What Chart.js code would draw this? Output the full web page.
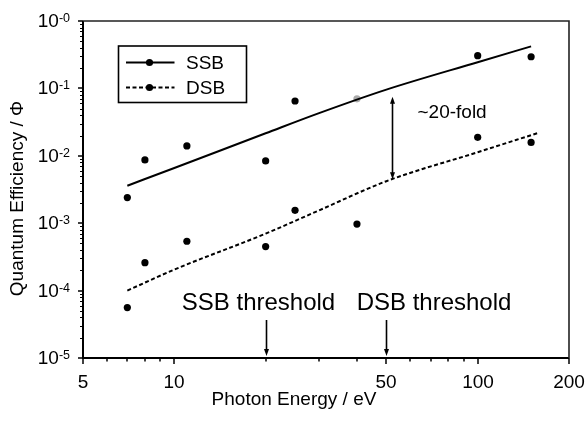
<!DOCTYPE html>
<html><head><meta charset="utf-8">
<script src="https://cdn.jsdelivr.net/npm/chart.js@4.4.1/dist/chart.umd.min.js"></script>
<style>html,body{margin:0;padding:0;background:#fff;}#wrap{width:588px;height:423px;position:relative;}</style>
</head><body><div id="wrap"><canvas id="c" width="588" height="423"></canvas></div>
<script>
// ---- data ----
const energies   = [7, 8, 11, 20, 25, 40, 100, 150];
const ssbValues  = [2.4e-3, 8.7e-3, 1.4e-2, 8.4e-3, 6.5e-2, 7.0e-2, 0.306, 0.295];
const dsbValues  = [5.6e-5, 2.6e-4, 5.4e-4, 4.5e-4, 1.55e-3, 9.7e-4, 0.0188, 0.0158];
const ssbFitEnergies = [7, 10, 20, 30, 50, 100, 150];
const ssbFitValues   = [3.6e-3, 6.6e-3, 0.0216, 0.043, 0.096, 0.245, 0.42];
const dsbFitEnergies = [7, 10, 20, 30, 50, 100, 157];
const dsbFitValues   = [1.0e-4, 2.05e-4, 7.0e-4, 1.55e-3, 4.2e-3, 0.0113, 0.0216];
const xTickValues = [5,6,7,8,9,10,20,30,40,50,60,70,80,90,100,200];
const xTickLabels = {5:'5',10:'10',50:'50',100:'100',200:'200'};
const yTickValues = [1, 0.1, 0.01, 0.001, 1e-4, 1e-5];
const yTickExponents = ['-0','-1','-2','-3','-4','-5'];
const seriesNames = ['SSB','DSB'];
const thresholdLabels = ['SSB threshold','DSB threshold'];
const thresholdEnergies = [20, 50];
const foldEnergy = 52, foldTop = 0.0753, foldBottom = 4.5e-3, foldLabel = '~20-fold';
const xTitle = 'Photon Energy / eV';
const yTitle = 'Quantum Efficiency / \u03A6';

const FONT = '"Liberation Sans", Arial, Helvetica, sans-serif';
const pts = (xs, ys) => xs.map((x,i)=>({x, y: ys[i]}));

function arrowHead(ctx, x, y, dir, w, l){
  ctx.beginPath();
  ctx.moveTo(x, y);
  ctx.lineTo(x - w/2, y - dir*l);
  ctx.lineTo(x + w/2, y - dir*l);
  ctx.closePath();
  ctx.fill();
}

const decor = {
  id: 'decor',
  afterDraw(chart){
    const {ctx, scales:{x, y}} = chart;
    const a = { left: x.getPixelForValue(x.min), right: x.getPixelForValue(x.max),
                top: y.getPixelForValue(y.max), bottom: y.getPixelForValue(y.min) };
    ctx.save();
    // frame
    ctx.strokeStyle = '#000'; ctx.lineWidth = 2;
    ctx.beginPath(); ctx.moveTo(a.left, a.top); ctx.lineTo(a.left, a.bottom); ctx.lineTo(a.right, a.bottom); ctx.stroke();
    ctx.strokeStyle = '#222'; ctx.lineWidth = 1.6;
    ctx.beginPath(); ctx.moveTo(a.left, a.top); ctx.lineTo(a.right, a.top); ctx.lineTo(a.right, a.bottom); ctx.stroke();
    // x ticks + labels
    ctx.strokeStyle = '#000'; ctx.fillStyle = '#000'; ctx.lineWidth = 1.5;
    xTickValues.forEach(v => {
      const px = Math.round(x.getPixelForValue(v));
      const len = xTickLabels[v] ? 6 : 3.5;
      ctx.beginPath(); ctx.moveTo(px, a.bottom); ctx.lineTo(px, a.bottom + len); ctx.stroke();
      if (xTickLabels[v]) {
        ctx.font = '19px ' + FONT; ctx.textAlign = 'center'; ctx.textBaseline = 'alphabetic';
        ctx.fillText(xTickLabels[v], px, a.bottom + 30);
      }
    });
    // y ticks
    yTickValues.forEach((v, i) => {
      const py = Math.round(y.getPixelForValue(v));
      ctx.lineWidth = 1.5;
      ctx.beginPath(); ctx.moveTo(a.left, py); ctx.lineTo(a.left - 5, py); ctx.stroke();
      if (v < 1) {
        for (let m = 2; m <= 9; m++) {
          const pm = Math.round(y.getPixelForValue(v*m)) + 0.5;
          ctx.lineWidth = 1;
          ctx.beginPath(); ctx.moveTo(a.left, pm); ctx.lineTo(a.left - 3, pm); ctx.stroke();
        }
      }
      // labels 10^n
      ctx.textAlign = 'right';
      ctx.font = '12.5px ' + FONT;
      ctx.textBaseline = 'alphabetic';
      const sw = ctx.measureText(yTickExponents[i]).width;
      ctx.fillText(yTickExponents[i], a.left - 13, py + 1);
      ctx.font = '19px ' + FONT;
      ctx.textBaseline = 'middle';
      ctx.fillText('10', a.left - 13 - sw, py + 1);
    });
    // axis titles
    ctx.font = '19px ' + FONT;
    ctx.textAlign = 'center'; ctx.textBaseline = 'alphabetic';
    ctx.fillText(xTitle, chart.width/2, a.bottom + 47);
    ctx.save();
    ctx.translate(23, (a.top + a.bottom)/2 + 9);
    ctx.rotate(-Math.PI/2);
    ctx.fillText(yTitle, 0, 0);
    ctx.restore();
    // legend
    const lx = a.left + 35.5, ly = a.top + 25, lw = 128, lh = 56.5;
    ctx.strokeStyle = '#000'; ctx.lineWidth = 1.6;
    ctx.strokeRect(lx, ly, lw, lh);
    seriesNames.forEach((name, i) => {
      const ry = ly + 16.5 + i*25;
      ctx.lineWidth = 2;
      ctx.setLineDash(i === 0 ? [] : [4, 2.5]);
      ctx.beginPath(); ctx.moveTo(lx + 7.5, ry); ctx.lineTo(lx + 56, ry); ctx.stroke();
      ctx.setLineDash([]);
      ctx.beginPath(); ctx.arc(lx + 31, ry, 3.6, 0, Math.PI*2); ctx.fill();
      ctx.font = '19px ' + FONT; ctx.textAlign = 'left'; ctx.textBaseline = 'middle';
      ctx.fillText(name, lx + 67.5, ry + 1);
    });
    // fold arrow
    const fx = Math.round(x.getPixelForValue(foldEnergy)) + 0.5;
    const fy1 = y.getPixelForValue(foldTop), fy2 = y.getPixelForValue(foldBottom);
    ctx.lineWidth = 1.6;
    ctx.beginPath(); ctx.moveTo(fx, fy1 + 4); ctx.lineTo(fx, fy2 - 4); ctx.stroke();
    arrowHead(ctx, fx, fy1, -1, 5, 7);
    arrowHead(ctx, fx, fy2, 1, 5, 7);
    ctx.font = '19px ' + FONT; ctx.textAlign = 'left'; ctx.textBaseline = 'middle';
    ctx.fillText(foldLabel, fx + 25, fy1 + 16);
    // thresholds
    const textShift = [-8, 47.5];
    thresholdEnergies.forEach((e, i) => {
      const tx = Math.round(x.getPixelForValue(e)) + 0.5;
      ctx.lineWidth = 1.6;
      ctx.beginPath(); ctx.moveTo(tx, a.bottom - 38); ctx.lineTo(tx, a.bottom - 6); ctx.stroke();
      arrowHead(ctx, tx, a.bottom - 2, 1, 5, 7);
      ctx.font = '24px ' + FONT; ctx.textAlign = 'center'; ctx.textBaseline = 'alphabetic';
      ctx.fillText(thresholdLabels[i], tx + textShift[i], a.bottom - 48);
    });
    ctx.restore();
  }
};

new Chart(document.getElementById('c'), {
  type: 'scatter',
  data: { datasets: [
    { label: 'SSB fit', data: pts(ssbFitEnergies, ssbFitValues), showLine: true, borderColor: '#000', borderWidth: 2,
      pointRadius: 0, cubicInterpolationMode: 'monotone', fill: false },
    { label: 'DSB fit', data: pts(dsbFitEnergies, dsbFitValues), showLine: true, borderColor: '#000', borderWidth: 2,
      borderDash: [4, 2.5], pointRadius: 0, cubicInterpolationMode: 'monotone', fill: false },
    { label: 'SSB', data: pts(energies, ssbValues), showLine: false, pointRadius: 3.6, pointBorderWidth: 0,
      pointBackgroundColor: c => (c.dataIndex === 5 ? '#aaa' : '#000'), pointBorderColor: 'rgba(0,0,0,0)' },
    { label: 'DSB', data: pts(energies, dsbValues), showLine: false, pointRadius: 3.6, pointBorderWidth: 0,
      pointBackgroundColor: '#000', pointBorderColor: 'rgba(0,0,0,0)' }
  ]},
  options: {
    animation: false, responsive: false, devicePixelRatio: 1,
    layout: { padding: { left: 0, right: 19, top: 21, bottom: 0 } },
    plugins: { legend: { display: false }, tooltip: { enabled: false } },
    scales: {
      x: { type: 'logarithmic', min: 5, max: 200,
        afterBuildTicks: s => { s.ticks = xTickValues.map(v => ({ value: v })); },
        afterFit: s => { s.height = 65; },
        grid: { display: false, drawTicks: false }, border: { display: false },
        ticks: { display: false } },
      y: { type: 'logarithmic', min: 1e-5, max: 1,
        afterFit: s => { s.width = 83; },
        grid: { display: false, drawTicks: false }, border: { display: false },
        ticks: { display: false } }
    }
  },
  plugins: [decor]
});
</script>
</body></html>
